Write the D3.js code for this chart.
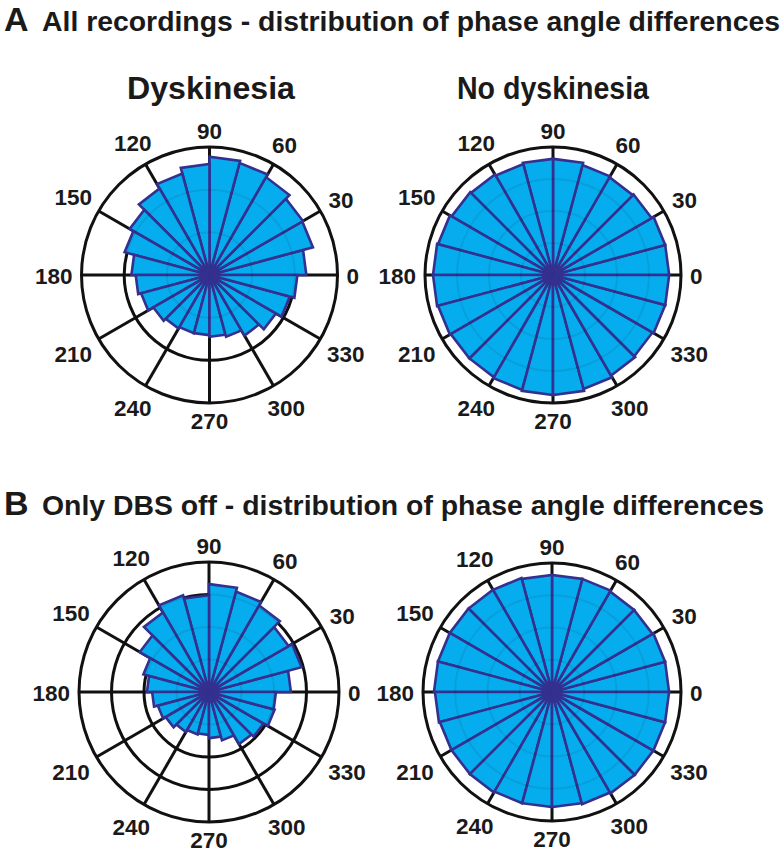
<!DOCTYPE html>
<html>
<head>
<meta charset="utf-8">
<script src="https://cdn.jsdelivr.net/npm/d3@7"></script>
<style>
  html, body { margin: 0; padding: 0; background: #fff; }
  svg { display: block; }
  text { font-family: "Liberation Sans", Arial, sans-serif; font-weight: bold; fill: #1a1a1a; }
</style>
</head>
<body>
<svg id="chart" width="783" height="853"></svg>
<script>
// ---------------- data ----------------
// 24 bins of 15 degrees, starting at 0 deg (east), counter-clockwise
const binStarts = d3.range(0, 360, 15);
const angleTicks = [0, 30, 60, 90, 120, 150, 180, 210, 240, 270, 300, 330];

// values in ring units (rings drawn at 1, 2, ... rMax)
const allDysk   = [2.27, 2.51, 2.53, 2.65, 2.72, 2.77, 2.60, 2.46, 2.34, 2.16, 2.06, 1.83,
                   1.73, 1.66, 1.52, 1.45, 1.41, 1.41, 1.45, 1.50, 1.64, 1.80, 1.95, 2.06];
const allNoDysk = [3.63, 3.63, 3.56, 3.53, 3.56, 3.63, 3.63, 3.59, 3.63, 3.66, 3.72, 3.75,
                   3.75, 3.72, 3.69, 3.69, 3.72, 3.75, 3.75, 3.69, 3.63, 3.59, 3.63, 3.63];
const offDysk   = [2.52, 2.95, 2.83, 3.08, 3.20, 3.32, 2.98, 3.08, 2.83, 2.46, 2.09, 1.91,
                   1.75, 1.63, 1.54, 1.42, 1.35, 1.32, 1.42, 1.54, 1.85, 1.94, 2.09, 2.06];
const offNoDysk = [3.63, 3.63, 3.60, 3.60, 3.63, 3.63, 3.63, 3.66, 3.66, 3.66, 3.66, 3.66,
                   3.63, 3.60, 3.60, 3.60, 3.57, 3.57, 3.57, 3.60, 3.63, 3.63, 3.63, 3.63];

const ringsThree = [1, 2, 3];
const ringsFour  = [1, 2, 3, 4];

const panelTitles = ["All recordings - distribution of phase angle differences",
                     "Only DBS off - distribution of phase angle differences"];
const panelLetters = ["A", "B"];
const columnTitles = ["Dyskinesia", "No dyskinesia"];

// ---------------- drawing ----------------
const svg = d3.select("#chart");
const FILL = "#06ADEE";
const EDGE = "#33308F";

function rose(cx, cy, R, values, rings) {
  const g = svg.append("g").attr("transform", `translate(${cx},${cy})`);
  const rMax = d3.max(rings);
  const r = d3.scaleLinear().domain([0, rMax]).range([0, R]);
  const toXY = (rad, deg) => [rad * Math.cos(deg * Math.PI / 180), -rad * Math.sin(deg * Math.PI / 180)];

  // black grid: spokes + rings
  g.selectAll("line.spoke").data(angleTicks).join("line")
    .attr("x1", 0).attr("y1", 0)
    .attr("x2", d => toXY(R, d)[0]).attr("y2", d => toXY(R, d)[1])
    .attr("stroke", "#111").attr("stroke-width", 3);
  g.selectAll("circle.ring").data(rings).join("circle")
    .attr("r", d => r(d)).attr("fill", "none")
    .attr("stroke", "#111").attr("stroke-width", 3);

  // wedges (triangles, as in a MATLAB rose plot)
  g.selectAll("path.wedge").data(values.map((v, i) => ({v, a0: binStarts[i], a1: binStarts[i] + 15})))
    .join("path")
    .attr("d", d => {
      const p = d3.path();
      p.moveTo(0, 0);
      const [x0, y0] = toXY(r(d.v), d.a0);
      const [x1, y1] = toXY(r(d.v), d.a1);
      p.lineTo(x0, y0); p.lineTo(x1, y1); p.closePath();
      return p.toString();
    })
    .attr("fill", FILL).attr("stroke", EDGE).attr("stroke-width", 2.6)
    .attr("stroke-linejoin", "miter");

  // faint grid showing through the bars
  g.selectAll("circle.faint").data(rings.slice(0, -1)).join("circle")
    .attr("r", d => r(d)).attr("fill", "none")
    .attr("stroke", "#000").attr("stroke-opacity", 0.08).attr("stroke-width", 2);

  // angle labels
  const lab = g.selectAll("text.lab").data(angleTicks).join("text")
    .attr("font-size", 22.5)
    .attr("text-anchor", "middle")
    .attr("dominant-baseline", "central")
    .text(d => d);
  lab.each(function(d) {
    const bb = this.getBBox();
    const hw = bb.width / 2, hh = 8;
    const rad = d * Math.PI / 180;
    const rr = R + 9 + hw * Math.abs(Math.cos(rad)) + hh * Math.abs(Math.sin(rad));
    d3.select(this).attr("x", rr * Math.cos(rad)).attr("y", -rr * Math.sin(rad) + 1);
  });
}

// panel headers
const rowY = [31, 515];
panelLetters.forEach((L, i) => {
  svg.append("text").attr("x", 4).attr("y", rowY[i]).attr("font-size", 34).text(L);
  svg.append("text").attr("x", 42).attr("y", rowY[i]).attr("font-size", 28)
    .attr("textLength", i === 0 ? 738 : 722).attr("lengthAdjust", "spacingAndGlyphs")
    .text(panelTitles[i]);
});
[[211, 168], [553, 192]].forEach(([x, w], i) => {
  svg.append("text").attr("x", x - w / 2).attr("y", 99).attr("font-size", 32)
    .attr("textLength", w).attr("lengthAdjust", "spacingAndGlyphs")
    .text(columnTitles[i]);
});

rose(209.5, 275, 128, allDysk, ringsThree);
rose(553, 275, 128, allNoDysk, ringsFour);
rose(209, 692, 130, offDysk, ringsFour);
rose(552, 692, 129, offNoDysk, ringsFour);
</script>
</body>
</html>
